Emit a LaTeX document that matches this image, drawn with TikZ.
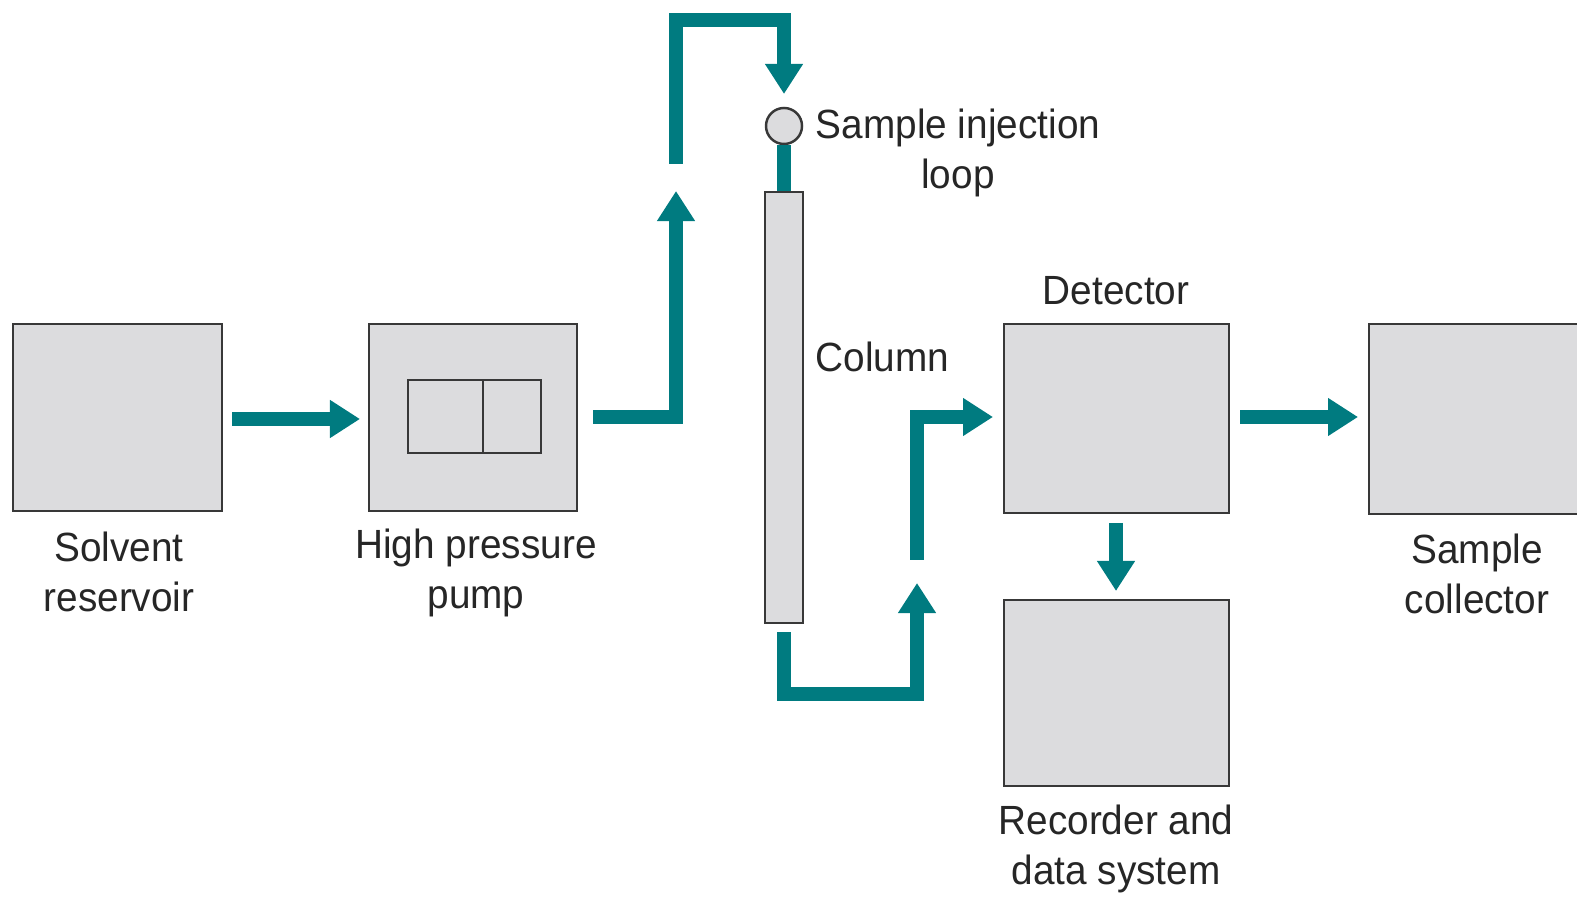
\documentclass[tikz,border=0pt]{standalone}
\usepackage{fontspec}
\setmainfont[FakeStretch=0.95]{Liberation Sans}
\usetikzlibrary{arrows.meta}
\definecolor{teal1}{HTML}{007B80}
\definecolor{boxfill}{HTML}{DCDCDE}
\definecolor{boxline}{HTML}{383838}
\begin{document}
\begin{tikzpicture}[x=0.01cm,y=-0.01cm,
  box/.style={draw=boxline,fill=boxfill,line width=0.7pt,rectangle,inner sep=0pt},
  flow/.style={draw=teal1,line width=0.14cm,line join=miter,
    -{Triangle[width=0.36cm,length=0.3cm]}},
  pipe/.style={draw=teal1,line width=0.14cm,line join=miter},
  lbl/.style={font=\fontsize{11.6}{14.2}\selectfont,align=center,inner sep=0pt,text=black!85}]
\useasboundingbox (0,0) rectangle (1577,898);
\clip (0,0) rectangle (1577,898);
% boxes
\node[box,minimum width=2.09cm,minimum height=1.87cm] (solvent) at (117.5,417.5) {};
\node[box,minimum width=2.08cm,minimum height=1.87cm] (pump) at (473,417.5) {};
\node[box,minimum width=0.75cm,minimum height=0.73cm] (pumpL) at (445.5,416.5) {};
\node[box,minimum width=0.58cm,minimum height=0.73cm] (pumpR) at (512,416.5) {};
\node[box,minimum width=0.38cm,minimum height=4.31cm] (column) at (784,407.5) {};
\node[box,circle,minimum size=0.36cm] (loop) at (784,126) {};
\node[box,minimum width=2.25cm,minimum height=1.89cm] (detector) at (1116.5,418.5) {};
\node[box,minimum width=2.25cm,minimum height=1.86cm] (recorder) at (1116.5,693) {};
\node[box,minimum width=2.31cm,minimum height=1.90cm] (collector) at (1484.5,419) {};
% connector coordinates
\coordinate (a1s) at (232,419);
\coordinate (a1e) at (360,419);
\coordinate (p1s) at (593,417);
\coordinate (p1c) at (676,417);
\coordinate (p1e) at (676,191);
\coordinate (p2s) at (676,164);
\coordinate (p2a) at (676,20);
\coordinate (p2b) at (784,20);
\coordinate (p2e) at (784,94);
\coordinate (c1s) at (784,632);
\coordinate (c1a) at (784,694);
\coordinate (c1b) at (917,694);
\coordinate (c1e) at (917,583);
\coordinate (c2s) at (917,560);
\coordinate (c2a) at (917,417);
\coordinate (c2e) at (993,417);
\coordinate (d1s) at (1116,523);
\coordinate (d1e) at (1116,591);
\coordinate (d2s) at (1240,417);
\coordinate (d2e) at (1358,417);
% connectors
\draw[flow] (a1s) -- (a1e);
\draw[flow] (p1s) -- (p1c) -- (p1e);
\draw[flow] (p2s) -- (p2a) -- (p2b) -- (p2e);
\draw[pipe] (loop.south) -- (column.north);
\draw[flow] (c1s) -- (c1a) -- (c1b) -- (c1e);
\draw[flow] (c2s) -- (c2a) -- (c2e);
\draw[flow] (d1s) -- (d1e);
\draw[flow] (d2s) -- (d2e);
% labels
\node[lbl] (tsolv) at (119,572) {Solvent\\reservoir};
\node[lbl] (tpump) at (476,573) {High pressure\\pump};
\node[lbl] (tloop) at (958,153) {Sample injection\\loop};
\node[lbl,anchor=west] (tcol) at (815,357) {Column};
\node[lbl] (tdet) at (1116,291) {Detector};
\node[lbl] (trec) at (1116,849) {Recorder and\\data system};
\node[lbl] (tcoll) at (1477,574) {Sample\\collector};
\end{tikzpicture}
\end{document}
